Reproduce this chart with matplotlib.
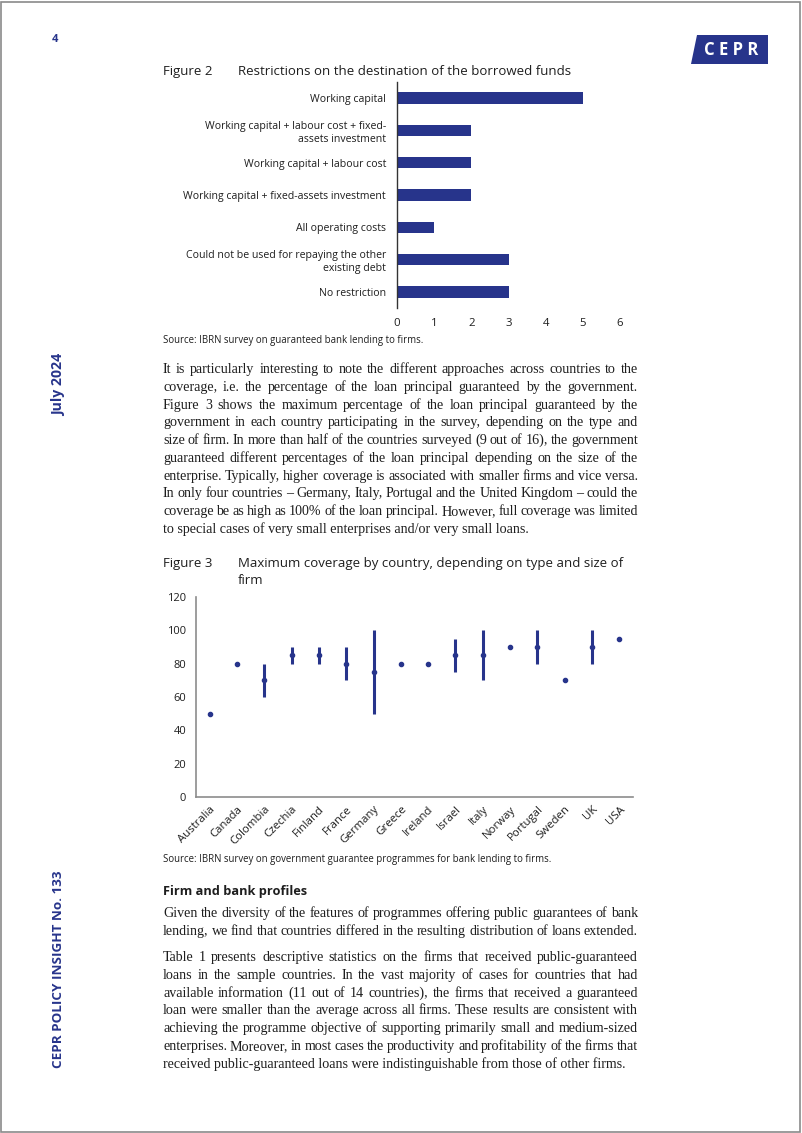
import numpy as np
import matplotlib
matplotlib.use("Agg")
import matplotlib.pyplot as plt
from matplotlib.patches import Rectangle, Polygon

W, H = 802, 1133
NAVY = "#27348B"
INK = "#1E1E1E"
SANS = ["Open Sans", "DejaVu Sans"]
SERIF = ["Liberation Serif", "DejaVu Serif"]

# Figure 2 data
restrictions = [
    "Working capital",
    "Working capital + labour cost + fixed-\nassets investment",
    "Working capital + labour cost",
    "Working capital + fixed-assets investment",
    "All operating costs",
    "Could not be used for repaying the other\nexisting debt",
    "No restriction",
]
n_countries = [5, 2, 2, 2, 1, 3, 3]
fig2_xticks = [0, 1, 2, 3, 4, 5, 6]

# Figure 3 data
countries = ["Australia", "Canada", "Colombia", "Czechia", "Finland", "France",
             "Germany", "Greece", "Ireland", "Israel", "Italy", "Norway",
             "Portugal", "Sweden", "UK", "USA"]
cov_low = [50, 80, 60, 80, 80, 70, 50, 80, 80, 75, 70, 90, 80, 70, 80, 95]
cov_high = [50, 80, 80, 90, 90, 90, 100, 80, 80, 95, 100, 90, 100, 70, 100, 95]
cov_mid = [50, 80, 70, 85, 85, 80, 75, 80, 80, 85, 85, 90, 90, 70, 90, 95]
fig3_yticks = [0, 20, 40, 60, 80, 100, 120]

para1 = [
    "It is particularly interesting to note the different approaches across countries to the",
    "coverage, i.e. the percentage of the loan principal guaranteed by the government.",
    "Figure 3 shows the maximum percentage of the loan principal guaranteed by the",
    "government in each country participating in the survey, depending on the type and",
    "size of firm. In more than half of the countries surveyed (9 out of 16), the government",
    "guaranteed different percentages of the loan principal depending on the size of the",
    "enterprise. Typically, higher coverage is associated with smaller firms and vice versa.",
    "In only four countries \u2013 Germany, Italy, Portugal and the United Kingdom \u2013 could the",
    "coverage be as high as 100% of the loan principal. However, full coverage was limited",
    "to special cases of very small enterprises and/or very small loans.",
]
para2 = [
    "Given the diversity of the features of programmes offering public guarantees of bank",
    "lending, we find that countries differed in the resulting distribution of loans extended.",
]
para3 = [
    "Table 1 presents descriptive statistics on the firms that received public-guaranteed",
    "loans in the sample countries. In the vast majority of cases for countries that had",
    "available information (11 out of 14 countries), the firms that received a guaranteed",
    "loan were smaller than the average across all firms. These results are consistent with",
    "achieving the programme objective of supporting primarily small and medium-sized",
    "enterprises. Moreover, in most cases the productivity and profitability of the firms that",
    "received public-guaranteed loans were indistinguishable from those of other firms.",
]

fig = plt.figure(figsize=(W / 100, H / 100), dpi=100)
renderer = fig.canvas.get_renderer()


def fx(x):
    return x / W


def fy(y):
    return 1 - y / H


def ptext(x, y, s, **kw):
    return fig.text(fx(x), fy(y), s, **kw)


def add_ax(l, t, r, b):
    return fig.add_axes([fx(l), fy(b), (r - l) / W, (b - t) / H])


def justify(lines, x0, x1, base0, pitch, ragged_last=True, size=10.1):
    for i, line in enumerate(lines):
        y = base0 + i * pitch
        if ragged_last and i == len(lines) - 1:
            ptext(x0, y, line, family=SERIF, size=size, color=INK, va="baseline")
            continue
        words = line.split(" ")
        arts = [ptext(0, y, w, family=SERIF, size=size, color=INK, va="baseline") for w in words]
        widths = [a.get_window_extent(renderer).width for a in arts]
        gap = (x1 - x0 - sum(widths)) / (len(words) - 1)
        x = x0
        for a, wd in zip(arts, widths):
            a.set_x(fx(x))
            x += wd + gap


# page frame
fig.add_artist(Rectangle((0.001, 0.001), 0.997, 0.997, transform=fig.transFigure,
                         fill=False, edgecolor="#8a8a8a", linewidth=1.2))

# header
ptext(55, 40, "4", family=SANS, weight="bold", size=8, color=NAVY, ha="center", va="center")
logo = [(fx(697), fy(35)), (fx(768), fy(35)), (fx(768), fy(64)), (fx(691), fy(64))]
fig.add_artist(Polygon(logo, closed=True, transform=fig.transFigure,
                       facecolor=NAVY, edgecolor="none"))
ptext(731, 50, "C E P R", family=SANS, weight="bold", size=12, color="white",
      ha="center", va="center")

# side bar
ptext(59, 385, "July 2024", family=SANS, weight="bold", size=10.2, color=NAVY,
      rotation=90, ha="center", va="center")
ptext(59, 969, "CEPR POLICY INSIGHT No. 133", family=SANS, weight="bold", size=9.7,
      color=NAVY, rotation=90, ha="center", va="center")

# ---------- Figure 2 ----------
ptext(163, 75, "Figure 2", family=SANS, size=9.5, color=INK, va="baseline")
ptext(238, 75, "Restrictions on the destination of the borrowed funds", family=SANS,
      size=9.5, color=INK, va="baseline")

ax2 = add_ax(397, 82, 620, 308)
ypos = np.arange(len(restrictions))
ax2.barh(ypos, n_countries, height=0.35, color=NAVY)
ax2.set_ylim(len(restrictions) - 0.5, -0.5)
ax2.set_xlim(0, 6)
ax2.set_xticks(fig2_xticks)
ax2.set_yticks(ypos)
ax2.set_yticklabels(restrictions, family=SANS, size=7.6, color=INK, linespacing=1.2)
ax2.set_xticklabels([str(t) for t in fig2_xticks], family=SANS, size=8.2, color=INK)
ax2.tick_params(length=0)
ax2.tick_params(axis="x", pad=7)
ax2.tick_params(axis="y", pad=8)
for s in ["top", "right", "bottom"]:
    ax2.spines[s].set_visible(False)
ax2.spines["left"].set_color("#333333")
ax2.spines["left"].set_linewidth(1.0)

ptext(163, 343, "Source: IBRN survey on guaranteed bank lending to firms.", family=SANS,
      size=6.9, color=INK, va="baseline")

justify(para1, 163, 638, 373, 17.78)

# ---------- Figure 3 ----------
ptext(163, 567, "Figure 3", family=SANS, size=9.5, color=INK, va="baseline")
ptext(238, 567, "Maximum coverage by country, depending on type and size of", family=SANS,
      size=9.5, color=INK, va="baseline")
ptext(238, 584, "firm", family=SANS, size=9.5, color=INK, va="baseline")

ax3 = add_ax(196, 597, 633, 797)
xpos = np.arange(len(countries))
ax3.vlines(xpos, cov_low, cov_high, color=NAVY, linewidth=2.2)
ax3.plot(xpos, cov_mid, linestyle="none", marker="o", markersize=3.0, color=NAVY)
ax3.set_xlim(-0.5, len(countries) - 0.5)
ax3.set_ylim(0, 120)
ax3.set_yticks(fig3_yticks)
ax3.set_yticklabels([str(t) for t in fig3_yticks], family=SANS, size=8, color=INK)
ax3.set_xticks(xpos)
ax3.set_xticklabels(countries, family=SANS, size=8.2, color=INK, rotation=45,
                    ha="right", va="top", rotation_mode="anchor")
ax3.tick_params(length=0)
ax3.tick_params(axis="y", pad=7)
ax3.tick_params(axis="x", pad=5)
for s in ["top", "right"]:
    ax3.spines[s].set_visible(False)
for s in ["left", "bottom"]:
    ax3.spines[s].set_color("#8c8c8c")
    ax3.spines[s].set_linewidth(1.2)

ptext(163, 862, "Source: IBRN survey on government guarantee programmes for bank lending to firms.",
      family=SANS, size=6.9, color=INK, va="baseline")

# ---------- section ----------
ptext(163, 895, "Firm and bank profiles", family=SANS, weight="bold", size=9.2, color=INK,
      va="baseline")
justify(para2, 163, 638, 917, 17.8, ragged_last=False)
justify(para3, 163, 638, 961, 17.83)

fig.savefig("out.png", dpi=100)
